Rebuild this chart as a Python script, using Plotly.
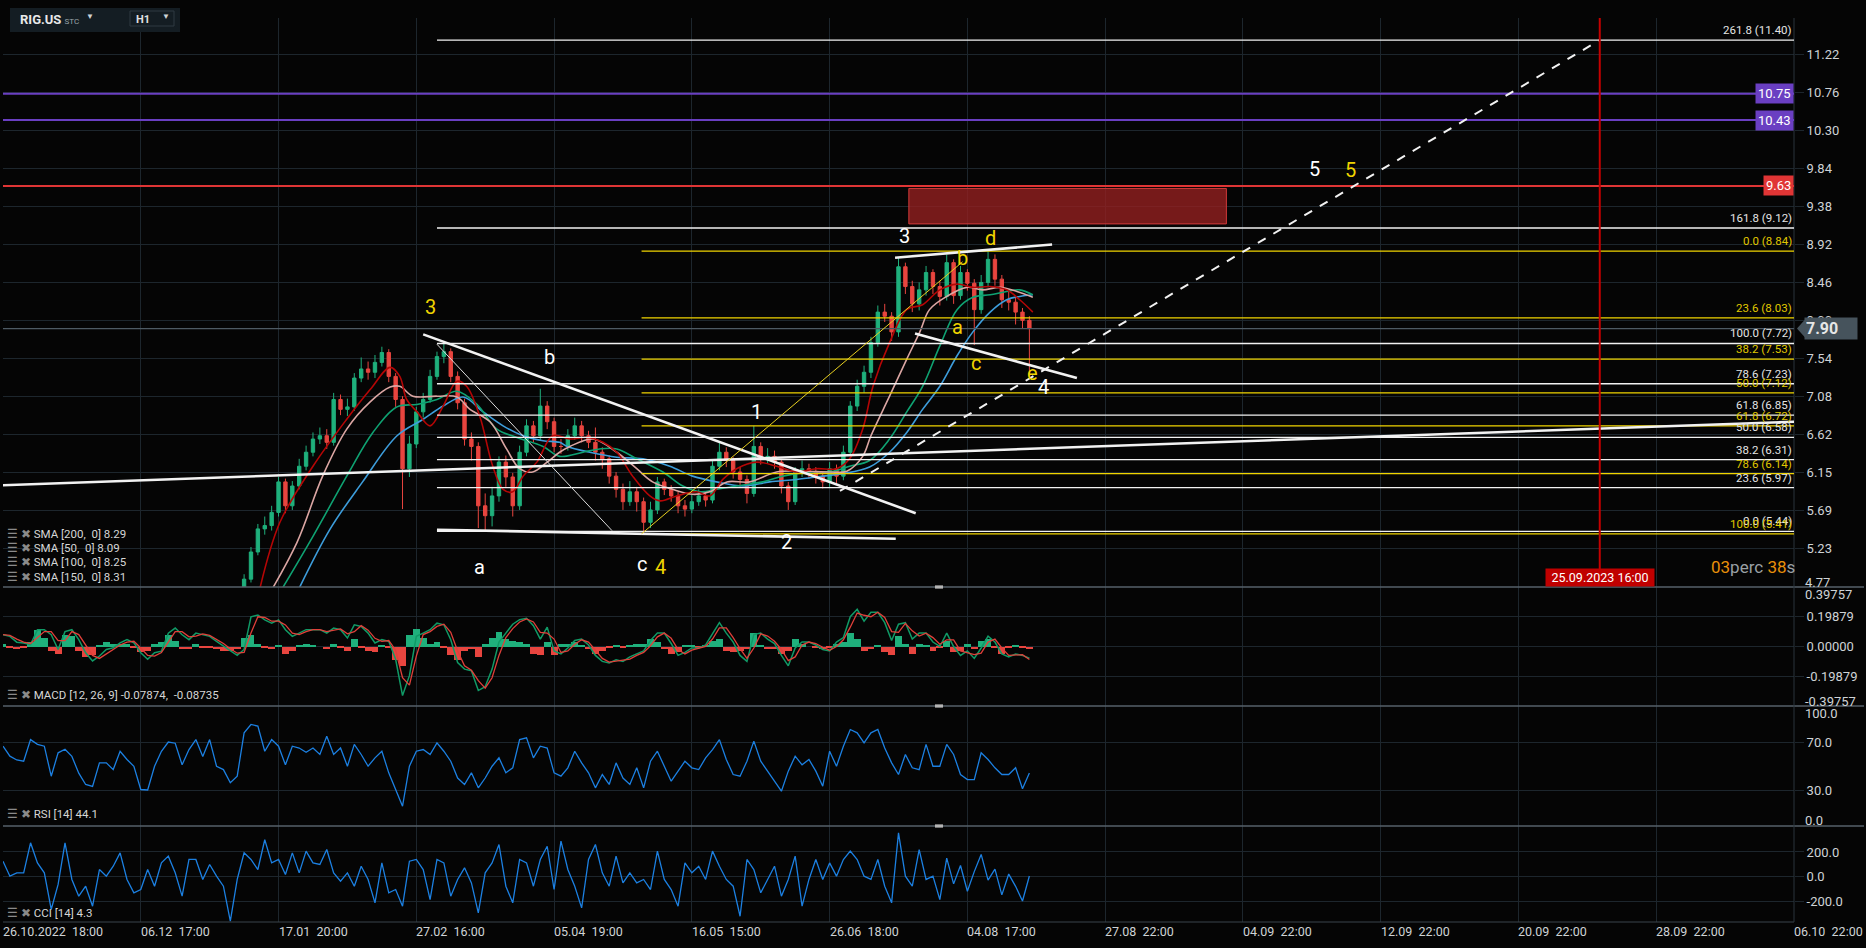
import plotly.graph_objects as go
from plotly.subplots import make_subplots

# ---------------- data (x = bar index, 20 bars per date tick) ----------------
tick_pos = [0, 20, 40, 60, 80, 100, 120, 140, 160, 180, 200, 220, 240, 260]
tick_text = ["26.10.2022  18:00", "06.12  17:00", "17.01  20:00", "27.02  16:00", "05.04  19:00",
             "16.05  15:00", "26.06  18:00", "04.08  17:00", "27.08  22:00", "04.09  22:00",
             "12.09  22:00", "20.09  22:00", "28.09  22:00", "06.10  22:00"]
price_ticks = [4.77, 5.23, 5.69, 6.15, 6.62, 7.08, 7.54, 8.00, 8.46, 8.92, 9.38, 9.84, 10.30, 10.76, 11.22]

first_bar = 35
first_open = 4.70
close = [4.86, 5.19, 5.47, 5.51, 5.67, 6.04, 5.75, 5.99, 6.23, 6.40, 6.56, 6.60, 6.52, 7.04, 6.92,
         6.95, 7.30, 7.41, 7.37, 7.49, 7.61, 7.32, 7.04, 6.20, 6.50, 6.89, 7.04, 7.32, 7.56, 7.62,
         7.32, 7.00, 6.56, 6.47, 5.75, 5.63, 5.87, 6.28, 6.10, 5.75, 6.40, 6.72, 6.60, 6.96, 6.77,
         6.47, 6.47, 6.60, 6.72, 6.60, 6.52, 6.40, 6.32, 6.11, 5.95, 5.80, 5.92, 5.80, 5.55, 5.70,
         6.04, 5.95, 5.87, 5.75, 5.71, 5.80, 5.87, 5.82, 6.23, 6.40, 6.30, 6.16, 6.07, 5.90, 6.47,
         6.32, 6.35, 6.28, 5.99, 5.80, 6.16, 6.20, 6.16, 6.11, 6.04, 6.20, 6.11, 6.40, 6.96, 7.20,
         7.37, 7.73, 8.10, 8.05, 7.86, 8.65, 8.41, 8.20, 8.37, 8.58, 8.41, 8.29, 8.70, 8.30, 8.58,
         8.45, 8.13, 8.46, 8.74, 8.50, 8.25, 8.22, 8.10, 8.00, 7.90]
high = [4.92, 5.25, 5.53, 5.62, 5.75, 6.10, 6.08, 6.05, 6.32, 6.48, 6.64, 6.70, 6.68, 7.12, 7.10,
        7.05, 7.36, 7.55, 7.50, 7.58, 7.68, 7.65, 7.36, 7.08, 6.60, 6.95, 7.12, 7.40, 7.62, 7.72,
        7.66, 7.38, 7.05, 6.64, 6.52, 5.90, 5.98, 6.35, 6.36, 6.15, 6.48, 6.80, 6.78, 7.17, 7.02,
        6.82, 6.56, 6.68, 6.82, 6.78, 6.66, 6.70, 6.46, 6.36, 6.16, 6.02, 6.05, 5.98, 5.85, 5.80,
        6.10, 6.08, 6.00, 5.92, 5.82, 5.88, 5.95, 5.92, 6.30, 6.52, 6.46, 6.34, 6.22, 6.12, 6.72,
        6.52, 6.45, 6.42, 6.32, 6.04, 6.22, 6.30, 6.26, 6.22, 6.16, 6.28, 6.25, 6.48, 7.02, 7.28,
        7.45, 7.80, 8.18, 8.20, 8.10, 8.76, 8.70, 8.48, 8.46, 8.66, 8.62, 8.48, 8.80, 8.74, 8.66,
        8.62, 8.50, 8.55, 8.84, 8.80, 8.55, 8.35, 8.28, 8.15, 8.05]
low = [4.66, 4.82, 5.15, 5.40, 5.45, 5.62, 5.66, 5.70, 5.95, 6.18, 6.35, 6.50, 6.44, 6.48, 6.85,
       6.84, 6.90, 7.25, 7.28, 7.30, 7.44, 7.25, 6.95, 5.71, 6.10, 6.45, 6.82, 7.00, 7.28, 7.48,
       7.25, 6.92, 6.48, 6.30, 5.48, 5.45, 5.50, 5.80, 5.98, 5.62, 5.70, 6.35, 6.52, 6.55, 6.68,
       6.40, 6.38, 6.42, 6.55, 6.52, 6.45, 6.30, 6.20, 6.02, 5.85, 5.70, 5.75, 5.68, 5.41, 5.48,
       5.65, 5.88, 5.80, 5.66, 5.62, 5.66, 5.75, 5.74, 5.78, 6.18, 6.22, 6.08, 5.98, 5.78, 5.86,
       6.25, 6.26, 6.20, 5.90, 5.70, 5.76, 6.10, 6.08, 6.02, 5.96, 5.98, 6.02, 6.06, 6.36, 6.90,
       7.12, 7.30, 7.68, 7.98, 7.75, 7.80, 8.32, 8.10, 8.12, 8.30, 8.32, 8.18, 8.24, 8.20, 8.25,
       8.36, 7.70, 8.08, 8.40, 8.42, 8.15, 8.12, 7.95, 7.90, 7.32]

sma50_x = [37.3, 40.2, 45.0, 49.9, 53.3, 56.2, 57.6, 58.6, 60.1, 62.0, 63.9, 65.9, 67.3, 69.2, 71.1,
           72.6, 74.0, 75.5, 77.5, 79.8, 82.3, 84.8, 87.1, 89.1, 91.4, 93.9, 95.4, 97.8, 100.7, 102.6,
           104.5, 106.5, 109.4, 112.3, 115.2, 118.1, 121.0, 122.9, 124.8, 126.3, 128.7, 131.2, 133.5,
           136.0, 138.5, 140.8, 143.3, 145.7, 147.6, 149.5]
sma50_y = [4.75, 5.55, 6.23, 6.80, 7.16, 7.43, 7.32, 7.04, 6.89, 6.72, 6.96, 7.26, 7.20, 6.84, 6.23,
           5.95, 5.92, 6.11, 6.28, 6.60, 6.56, 6.58, 6.52, 6.40, 6.11, 5.87, 5.81, 5.87, 5.92, 5.87,
           6.07, 6.20, 6.28, 6.23, 6.16, 6.20, 6.20, 6.32, 6.68, 7.20, 7.73, 8.13, 8.19, 8.37, 8.44,
           8.40, 8.41, 8.37, 8.25, 8.10]
sma100_x = [38.8, 42.7, 46.4, 49.9, 53.3, 56.2, 57.6, 59.5, 63.0, 65.9, 67.8, 70.7, 73.1, 75.0, 76.9,
            79.0, 80.8, 82.3, 85.6, 89.1, 92.0, 94.3, 97.2, 100.1, 102.6, 105.1, 108.4, 112.3, 116.1,
            120.0, 122.5, 124.8, 126.0, 128.7, 131.2, 133.1, 134.5, 137.0, 139.9, 142.2, 144.7, 147.2, 149.5]
sma100_y = [4.70, 5.31, 6.11, 6.68, 7.01, 7.19, 7.20, 7.08, 7.08, 7.07, 6.92, 6.77, 6.44, 6.20, 6.16,
            6.28, 6.40, 6.47, 6.56, 6.40, 6.20, 6.04, 5.95, 5.89, 5.92, 6.04, 6.04, 6.16, 6.17, 6.16,
            6.17, 6.35, 6.60, 7.08, 7.53, 7.86, 8.13, 8.29, 8.40, 8.37, 8.40, 8.35, 8.28]
sma150_x = [40.2, 45.0, 49.9, 53.7, 57.2, 60.1, 63.0, 65.9, 68.8, 71.7, 74.6, 78.4, 80.8, 84.2, 86.6,
            89.1, 92.0, 95.8, 98.7, 101.2, 103.6, 106.5, 110.3, 113.2, 117.1, 120.5, 122.9, 125.8,
            128.7, 131.2, 133.5, 136.0, 138.5, 140.8, 143.3, 145.7, 147.6, 149.5]
sma150_y = [4.70, 5.38, 6.11, 6.64, 6.95, 6.98, 7.04, 7.14, 6.98, 6.68, 6.58, 6.47, 6.35, 6.40, 6.44,
            6.44, 6.32, 6.16, 5.99, 5.92, 5.95, 5.99, 6.04, 6.11, 6.16, 6.17, 6.23, 6.30, 6.56, 6.89,
            7.20, 7.69, 8.13, 8.28, 8.31, 8.35, 8.37, 8.31]
sma200_x = [42.7, 47.5, 52.2, 57.2, 61.0, 63.9, 66.8, 69.7, 72.6, 75.5, 78.4, 80.8, 81.9, 85.2, 89.1,
            92.9, 96.8, 100.1, 103.6, 107.4, 111.3, 115.2, 119.0, 121.9, 125.8, 128.7, 131.2, 133.5,
            136.0, 138.5, 140.8, 143.3, 145.7, 147.6, 149.5]
sma200_y = [4.70, 5.47, 6.04, 6.60, 6.80, 6.96, 7.07, 6.89, 6.72, 6.60, 6.54, 6.52, 6.47, 6.40, 6.34,
            6.32, 6.23, 6.11, 6.04, 5.99, 6.04, 6.07, 6.11, 6.14, 6.22, 6.40, 6.64, 6.92, 7.20, 7.57,
            7.86, 8.10, 8.25, 8.29, 8.31]
sma_legend = ["SMA [200,  0] 8.29", "SMA [50,  0] 8.09", "SMA [100,  0] 8.25", "SMA [150,  0] 8.31"]

macd_line = [0.079, 0.068, 0.029, 0.024, 0.013, 0.113, 0.113, 0.079, -0.02, 0.10,
             0.113, 0.046, -0.042, -0.097, -0.064, -0.02, -0.009, 0.024, 0.046, 0.024,
             -0.042, -0.086, -0.042, -0.031, 0.09, 0.124, 0.079, 0.046, 0.09, 0.079,
             0.068, 0.035, 0.002, -0.031, -0.06, -0.02, 0.20, 0.212, 0.179, 0.157,
             0.179, 0.113, 0.068, 0.09, 0.113, 0.113, 0.113, 0.09, 0.124, 0.113,
             0.057, 0.146, 0.135, 0.09, 0.024, 0.046, 0.035, -0.086, -0.33, -0.196,
             0.068, 0.09, 0.113, 0.157, 0.146, 0.046, -0.108, -0.152, -0.163, -0.296,
             -0.27, -0.152, 0.03, 0.09, 0.15, 0.18, 0.19, 0.14, 0.05, 0.13,
             -0.03, -0.05, -0.01, 0.04, 0.05, 0.01, -0.06, -0.10, -0.11, -0.09,
             -0.10, -0.07, -0.05, -0.03, 0.04, 0.09, 0.09, 0.02, -0.06, -0.04,
             -0.01, -0.01, 0.01, 0.09, 0.16, 0.09, 0.03, -0.06, -0.10, 0.08,
             0.09, 0.05, 0.02, -0.06, -0.13, -0.01, 0.03, 0.03, 0.01, -0.02,
             -0.03, 0.03, 0.06, 0.20, 0.25, 0.17, 0.23, 0.23, 0.16, 0.04,
             0.15, 0.16, 0.05, 0.09, 0.09, 0.03, 0.00, 0.09, 0.00, -0.06,
             -0.03, -0.08, -0.01, 0.07, 0.03, -0.05, -0.07, -0.05, -0.06, -0.079]
macd_signal = [0.08, 0.075, 0.05, 0.03, 0.02, 0.06, 0.10, 0.10, 0.04, 0.04,
               0.10, 0.08, 0.01, -0.06, -0.08, -0.05, -0.02, 0.01, 0.03, 0.035,
               -0.01, -0.06, -0.065, -0.04, 0.03, 0.10, 0.10, 0.065, 0.07, 0.085,
               0.075, 0.05, 0.02, -0.015, -0.045, -0.04, 0.09, 0.20, 0.195, 0.17,
               0.17, 0.145, 0.09, 0.08, 0.10, 0.113, 0.113, 0.10, 0.107, 0.118,
               0.085, 0.10, 0.14, 0.11, 0.055, 0.035, 0.04, -0.025, -0.21, -0.26,
               -0.065, 0.08, 0.10, 0.135, 0.15, 0.095, -0.03, -0.13, -0.16, -0.23,
               -0.28, -0.21, -0.06, 0.06, 0.12, 0.165, 0.185, 0.165, 0.095, 0.09,
               0.05, -0.04, -0.03, 0.015, 0.045, 0.03, -0.025, -0.08, -0.105, -0.10,
               -0.095, -0.085, -0.06, -0.04, 0.005, 0.065, 0.09, 0.055, -0.02, -0.05,
               -0.025, -0.01, 0.0, 0.05, 0.125, 0.125, 0.06, -0.015, -0.08, -0.01,
               0.085, 0.07, 0.035, -0.02, -0.095, -0.07, 0.01, 0.03, 0.02, -0.005,
               -0.025, 0.0, 0.045, 0.13, 0.225, 0.21, 0.20, 0.23, 0.195, 0.10,
               0.095, 0.155, 0.105, 0.07, 0.09, 0.06, 0.015, 0.045, 0.045, -0.03,
               -0.045, -0.055, -0.045, 0.03, 0.05, -0.01, -0.06, -0.06, -0.055, -0.087]
macd_hist = [0.02, -0.01, -0.02, -0.01, 0.03, 0.11, 0.06, -0.03, -0.05, 0.08,
             0.07, -0.03, -0.07, -0.06, 0.01, 0.03, 0.02, 0.02, 0.02, -0.01,
             -0.04, -0.03, 0.02, 0.03, 0.08, 0.04, -0.02, -0.02, 0.02, -0.01,
             -0.01, -0.02, -0.03, -0.03, -0.02, 0.06, 0.08, 0.02, -0.01, -0.02,
             0.01, -0.05, -0.03, 0.01, 0.02, 0.01, 0.00, -0.02, 0.02, -0.01,
             -0.03, 0.05, -0.01, -0.03, -0.04, 0.01, -0.01, -0.09, -0.13, 0.08,
             0.12, 0.06, 0.02, 0.03, -0.01, -0.06, -0.09, -0.03, -0.02, -0.07,
             0.02, 0.06, 0.10, 0.05, 0.04, 0.03, 0.02, -0.05, -0.06, 0.03,
             -0.06, 0.02, 0.02, 0.03, 0.01, -0.02, -0.05, -0.03, -0.01, 0.01,
             -0.01, 0.01, 0.02, 0.02, 0.05, 0.03, -0.02, -0.05, -0.04, 0.01,
             0.01, -0.01, 0.01, 0.04, 0.05, -0.03, -0.04, -0.03, -0.02, 0.09,
             0.01, -0.02, -0.02, -0.05, -0.03, 0.05, 0.02, 0.00, -0.01, -0.02,
             -0.01, 0.02, 0.03, 0.09, 0.05, -0.03, -0.02, 0.01, -0.04, -0.06,
             0.07, 0.02, -0.05, 0.02, 0.01, -0.03, -0.01, 0.04, -0.04, -0.03,
             0.02, -0.02, 0.04, 0.05, -0.01, -0.05, -0.01, 0.01, -0.01, -0.02]
macd_ticks = [0.19879, 0.0, -0.19879]
macd_edge = [0.39757, -0.39757]

rsi = [66.5, 58.2, 55, 54, 72, 68, 66.5, 41.5, 61, 64,
       58, 44, 34.6, 33, 52.6, 52.6, 47, 62.3, 55.4, 49.8,
       30.4, 30, 49.8, 62.3, 70, 69, 51, 63.7, 72, 58,
       72, 49.8, 47, 36, 41.5, 77.6, 84.6, 83.2, 62.3, 72,
       66.5, 51, 66.5, 65, 61.5, 65, 59.6, 74.8, 59.6, 65,
       49.8, 68, 59.6, 49.8, 56.8, 62.3, 44.3, 30.4, 16.5, 49.8,
       62.3, 63.7, 59.6, 69.3, 62.3, 54, 40, 34.6, 44.3, 31.8,
       40, 49.8, 56.8, 44.3, 48.5, 72, 73.5, 56.8, 66.5, 65,
       44.3, 41.5, 48.5, 62.3, 52.6, 44.3, 31.8, 42.9, 34.6, 52.6,
       40, 34.6, 48.5, 31.8, 54, 62.3, 49.8, 37.3, 45.7, 54,
       48.5, 47, 56.8, 63.7, 72, 55.4, 42.9, 41.5, 54, 70.7,
       54, 45.7, 37.3, 29, 45.7, 58.2, 51, 55.4, 45.7, 33.2,
       62.3, 49.8, 66.5, 80.4, 77.6, 69.3, 77.6, 80.4, 65, 52.6,
       42.9, 59.6, 48.5, 47, 68, 49.8, 49.8, 68, 59.6, 42.9,
       38.7, 38.7, 61, 55.4, 48.5, 42.9, 42.9, 48.5, 31, 44.1]
rsi_ticks = [70, 30]
rsi_edge = [100, 0]

cci = [125, 3, 30, 30, 275, 111, 30, -269, -65, 275,
       -24, -160, -79, -242, 57, 3, 84, 193, -24, -133,
       -106, 57, -79, 111, 166, 30, -160, 139, 139, -24,
       98, 3, -79, -364, -24, 193, 139, 57, 300, 111,
       139, 16, 193, 30, 207, 111, 98, 220, 30, -38,
       30, -79, 84, -24, -215, 111, -133, -106, -242, 125,
       139, 57, -188, 139, 111, -160, -24, 71, -52, -297,
       30, 111, 261, -79, -215, 139, 111, -79, 139, 247,
       -106, 288, 57, -79, -256, 139, 261, 30, -79, 166,
       -52, 30, -52, -24, -106, 207, -24, -106, -242, 111,
       30, 84, -24, 207, 84, -24, -79, -324, 139, 57,
       -133, -24, 84, -160, -24, 166, -242, -24, 139, -24,
       111, 3, 139, 207, 139, 3, -24, 139, -79, -215,
       356, 3, -79, 220, -24, 3, -188, 150, -60, 90,
       -120, 40, 180, -30, 60, -150, 20, -80, -200, 4.3]
cci_ticks = [200, 0, -200]

# fibonacci retracements
fib_white_start = 63.0
fib_white_level = [261.8, 161.8, 100.0, 78.6, 61.8, 50.0, 38.2, 23.6, 0.0]
fib_white_price = [11.40, 9.12, 7.72, 7.23, 6.85, 6.58, 6.31, 5.97, 5.44]
fib_yellow_start = 92.7
fib_yellow_level = [0.0, 23.6, 38.2, 50.0, 61.8, 78.6, 100.0]
fib_yellow_price = [8.84, 8.03, 7.53, 7.12, 6.72, 6.14, 5.41]

# horizontal key levels
purple_levels = [10.75, 10.43]
red_levels = [9.63]
last_price = 7.90

# drawn trend lines (bar, price)
trend_x0 = [0.0, 61.0, 63.0, 129.5, 132.4]
trend_y0 = [6.00, 7.83, 5.46, 8.76, 7.84]
trend_x1 = [260.0, 132.5, 129.6, 152.3, 155.9]
trend_y1 = [6.77, 5.66, 5.35, 8.92, 7.30]
thin_x0, thin_y0, thin_x1, thin_y1 = 63.0, 7.71, 88.4, 5.45
yellow_x0, yellow_y0, yellow_x1, yellow_y1 = 92.7, 5.41, 139.3, 8.71
dash_x0, dash_y0, dash_x1, dash_y1 = 121.5, 5.93, 231.8, 11.40
zone_x0, zone_x1, zone_y0, zone_y1 = 131.5, 177.6, 9.17, 9.60
marker_bar = 231.8
marker_text = "25.09.2023 16:00"

# elliott wave labels
wave_text = ["3", "b", "a", "c", "4", "1", "2", "3", "b", "d", "a", "c", "e", "4", "5", "5"]
wave_x = [62.0, 79.4, 69.2, 92.7, 95.4, 109.4, 113.8, 130.8, 139.3, 143.3, 138.5, 141.2, 149.5, 151.0, 190.4, 195.6]
wave_y = [8.16, 7.56, 5.01, 5.05, 5.01, 6.89, 5.31, 9.02, 8.76, 9.00, 7.92, 7.48, 7.36, 7.19, 9.84, 9.83]
wave_yellow = [True, False, False, False, True, False, False, False, True, True, True, True, True, False, False, True]

# ---------------- styling ----------------
BG = "#050505"
GRID = "#1d262d"
AXIS_TXT = "#cfd3d6"
FONT = "Roboto, sans-serif"
UP = "#1fb07c"
DOWN = "#e8453f"
WHITE = "#f2f2f2"
YELLOW = "#f0d400"
PURPLE = "#6a3fc2"
RED = "#e03535"
BLUE = "#1c80e2"

W, H = 1866, 948
PL, PR, PT, PB = 3, 1794, 18, 922


def px_x(x):
    return (x - PL) / (PR - PL)


def px_y(y):
    return (PB - y) / (PB - PT)


fig = make_subplots(rows=4, cols=1, shared_xaxes=True, vertical_spacing=0,
                    row_heights=[569, 119, 120, 96])

bars = list(range(first_bar, first_bar + len(close)))
opens = [first_open] + close[:-1]
fig.add_trace(go.Candlestick(x=bars, open=opens, high=high, low=low, close=close,
                             increasing=dict(line=dict(color=UP, width=1), fillcolor=UP),
                             decreasing=dict(line=dict(color=DOWN, width=1), fillcolor=DOWN),
                             whiskerwidth=0, hoverinfo="skip", showlegend=False), row=1, col=1)

for xs, ys, col in [(sma200_x, sma200_y, "#3d9ddb"), (sma150_x, sma150_y, "#0fa272"),
                    (sma100_x, sma100_y, "#dba6a3"), (sma50_x, sma50_y, "#b40606")]:
    fig.add_trace(go.Scatter(x=xs, y=ys, mode="lines", line=dict(color=col, width=1.6, shape="spline"),
                             hoverinfo="skip", showlegend=False), row=1, col=1)

ind_x = list(range(len(macd_line)))
fig.add_trace(go.Bar(x=ind_x, y=macd_hist, marker=dict(color=[UP if v >= 0 else DOWN for v in macd_hist], line_width=0),
                     width=1.0, hoverinfo="skip", showlegend=False), row=2, col=1)
fig.add_trace(go.Scatter(x=ind_x, y=macd_line, mode="lines", line=dict(color="#109a66", width=1.5),
                         hoverinfo="skip", showlegend=False), row=2, col=1)
fig.add_trace(go.Scatter(x=ind_x, y=macd_signal, mode="lines", line=dict(color="#e0403a", width=1.3),
                         hoverinfo="skip", showlegend=False), row=2, col=1)
fig.add_trace(go.Scatter(x=ind_x, y=rsi, mode="lines", line=dict(color=BLUE, width=1.3),
                         hoverinfo="skip", showlegend=False), row=3, col=1)
fig.add_trace(go.Scatter(x=ind_x, y=cci, mode="lines", line=dict(color=BLUE, width=1.3),
                         hoverinfo="skip", showlegend=False), row=4, col=1)

fig.update_xaxes(range=[0, 260], tickvals=tick_pos, showticklabels=False, showgrid=True,
                 gridcolor=GRID, zeroline=False, showline=False, ticks="", rangeslider_visible=False)
tick_font = dict(family=FONT, size=13, color=AXIS_TXT)
yax = dict(side="right", showgrid=True, gridcolor=GRID, zeroline=False, showline=False,
           ticks="outside", ticklen=9, tickcolor=GRID, tickfont=tick_font)
fig.update_yaxes(**yax)
fig.update_yaxes(range=[4.765, 11.668], tickvals=price_ticks[1:], ticktext=[f"{v:.2f}" for v in price_ticks[1:]], row=1, col=1)
fig.update_yaxes(range=[-0.40, 0.40], tickvals=macd_ticks, ticktext=[f"{v:.5f}" for v in macd_ticks], row=2, col=1)
fig.update_yaxes(range=[0, 100], tickvals=rsi_ticks, ticktext=[f"{v:.1f}" for v in rsi_ticks], row=3, col=1)
fig.update_yaxes(range=[-371, 412], tickvals=cci_ticks, ticktext=[f"{v:.1f}" for v in cci_ticks], row=4, col=1)

shapes = []
ann = []

# axis labels that sit on pane edges, nudged inside like the reference
edge_labels = [(f"{price_ticks[0]:.2f}", 582), (f"{macd_edge[0]:.5f}", 594), (f"{macd_edge[1]:.5f}", 701),
               (f"{rsi_edge[0]:.1f}", 713), (f"{rsi_edge[1]:.1f}", 820)]
for t, ypx in edge_labels:
    ann.append(dict(x=1, y=px_y(ypx), xref="paper", yref="paper", xanchor="left", yanchor="middle", xshift=9,
                    text=t, showarrow=False, font=tick_font))

# pane separators and frame
for yref in ["y2", "y3", "y4"]:
    top = fig.layout[yref.replace("y", "yaxis")].domain[1]
    shapes.append(dict(type="line", xref="paper", yref="paper", x0=0, x1=px_x(1864), y0=top, y1=top,
                       line=dict(color="#56616a", width=1.5)))
    shapes.append(dict(type="rect", xref="paper", yref="paper", x0=px_x(935), x1=px_x(943),
                       y0=top - 0.0018, y1=top + 0.0018, fillcolor="#b5b5b5", line_width=0))
shapes.append(dict(type="line", xref="paper", yref="paper", x0=0, x1=1, y0=0, y1=0, line=dict(color="#3a444c", width=1)))
shapes.append(dict(type="line", xref="paper", yref="paper", x0=1, x1=1, y0=0, y1=1, line=dict(color="#2a343c", width=1)))

# key levels
shapes.append(dict(type="line", xref="x", yref="y", x0=0, x1=260, y0=last_price, y1=last_price,
                   line=dict(color="#4e5a63", width=1.2)))
for lv in purple_levels:
    shapes.append(dict(type="line", xref="x", yref="y", x0=0, x1=260, y0=lv, y1=lv, line=dict(color=PURPLE, width=2)))
    ann.append(dict(x=260, y=lv, xref="x", yref="y", xanchor="right", yanchor="middle", text=f"{lv:.2f}",
                    showarrow=False, bgcolor=PURPLE, borderpad=2, font=dict(family=FONT, size=13, color="#ffffff")))
for lv in red_levels:
    shapes.append(dict(type="line", xref="x", yref="y", x0=0, x1=260, y0=lv, y1=lv, line=dict(color=RED, width=2)))
    ann.append(dict(x=260, y=lv, xref="x", yref="y", xanchor="right", yanchor="middle", text=f"{lv:.2f}",
                    showarrow=False, bgcolor=RED, borderpad=2, font=dict(family=FONT, size=13, color="#ffffff")))

# target zone
shapes.append(dict(type="rect", xref="x", yref="y", x0=zone_x0, x1=zone_x1, y0=zone_y0, y1=zone_y1,
                   fillcolor="rgba(150,32,32,0.78)", line=dict(color="#d03a3a", width=1)))

# fib levels
for lv, pr in zip(fib_white_level, fib_white_price):
    shapes.append(dict(type="line", xref="x", yref="y", x0=fib_white_start, x1=260, y0=pr, y1=pr,
                       line=dict(color=WHITE, width=1.4)))
    ann.append(dict(x=260, y=pr, xref="x", yref="y", xanchor="right", yanchor="bottom", yshift=1,
                    text=f"{lv:.1f} ({pr:.2f})", showarrow=False, font=dict(family=FONT, size=11.5, color="#e4e4e4")))
for lv, pr in zip(fib_yellow_level, fib_yellow_price):
    shapes.append(dict(type="line", xref="x", yref="y", x0=fib_yellow_start, x1=260, y0=pr, y1=pr,
                       line=dict(color=YELLOW, width=1.3)))
    ann.append(dict(x=260, y=pr, xref="x", yref="y", xanchor="right", yanchor="bottom", yshift=1,
                    text=f"{lv:.1f} ({pr:.2f})", showarrow=False, font=dict(family=FONT, size=11.5, color="#e0c800")))

# trend lines
for x0, y0, x1, y1 in zip(trend_x0, trend_y0, trend_x1, trend_y1):
    shapes.append(dict(type="line", xref="x", yref="y", x0=x0, y0=y0, x1=x1, y1=y1, line=dict(color=WHITE, width=2.6)))
shapes.append(dict(type="line", xref="x", yref="y", x0=thin_x0, y0=thin_y0, x1=thin_x1, y1=thin_y1,
                   line=dict(color="#dddddd", width=1)))
shapes.append(dict(type="line", xref="x", yref="y", x0=yellow_x0, y0=yellow_y0, x1=yellow_x1, y1=yellow_y1,
                   line=dict(color="#e8d020", width=1)))
shapes.append(dict(type="line", xref="x", yref="y", x0=dash_x0, y0=dash_y0, x1=dash_x1, y1=dash_y1,
                   line=dict(color=WHITE, width=2, dash="dash")))

# time marker
shapes.append(dict(type="line", xref="x", yref="y", x0=marker_bar, x1=marker_bar, y0=4.9, y1=11.668,
                   line=dict(color="#c40000", width=2)))
ann.append(dict(x=marker_bar, y=4.765, xref="x", yref="y", xanchor="center", yanchor="bottom", text=marker_text,
                showarrow=False, bgcolor="#c00000", borderpad=1, width=106, font=dict(family=FONT, size=12.5, color="#ffffff")))

# last price tag on the axis
shapes.append(dict(type="path", xref="paper", yref="y", xsizemode="pixel", ysizemode="pixel", xanchor=1, yanchor=last_price,
                   path="M 3 0 L 11 -9 L 11 9 Z", fillcolor="#46535c", line_width=0))
ann.append(dict(x=1, y=last_price, xref="paper", yref="y", xanchor="left", yanchor="middle", xshift=10,
                text="<b>7.90</b>", showarrow=False, bgcolor="#46535c", borderpad=1, width=50, align="left",
                font=dict(family=FONT, size=16, color="#e6e6e6")))

# wave labels
for t, x, y, yel in zip(wave_text, wave_x, wave_y, wave_yellow):
    ann.append(dict(x=x, y=y, xref="x", yref="y", text=t, showarrow=False, xanchor="center", yanchor="middle",
                    font=dict(family=FONT, size=20, color=YELLOW if yel else "#ffffff")))

# countdown
ann.append(dict(x=px_x(1797), y=px_y(567), xref="paper", yref="paper", xanchor="right", yanchor="middle", showarrow=False,
                text="<span style='color:#e8900a'>03</span>perc <span style='color:#e8900a'>38</span>s",
                font=dict(family=FONT, size=17, color="#9aa0a4")))

# indicator legends
icon = "<span style='color:#8a8a8a'>☰ ✖</span> "
for i, t in enumerate(sma_legend):
    ann.append(dict(x=px_x(5), y=px_y(534 + i * 14.2), xref="paper", yref="paper", xanchor="left", yanchor="middle",
                    showarrow=False, text=icon + t, font=dict(family=FONT, size=11.5, color="#d6d6d6")))
for ypx, t in [(695, "MACD [12, 26, 9] -0.07874,  -0.08735"), (814, "RSI [14] 44.1"), (913, "CCI [14] 4.3")]:
    ann.append(dict(x=px_x(5), y=px_y(ypx), xref="paper", yref="paper", xanchor="left", yanchor="middle",
                    showarrow=False, text=icon + t, font=dict(family=FONT, size=11.5, color="#d6d6d6")))

# x tick labels (left aligned on the grid lines)
for p, t in zip(tick_pos, tick_text):
    ann.append(dict(x=p, y=px_y(931), xref="x", yref="paper", xanchor="left", yanchor="middle", showarrow=False,
                    xshift=-2, text=t.replace("  ", "&nbsp;&nbsp;"), font=dict(family=FONT, size=12.5, color=AXIS_TXT)))

# header box
shapes.append(dict(type="rect", xref="paper", yref="paper", x0=px_x(10), x1=px_x(180), y0=px_y(32), y1=px_y(8),
                   fillcolor="#141d23", line_width=0))
shapes.append(dict(type="rect", xref="paper", yref="paper", x0=px_x(130), x1=px_x(174), y0=px_y(26), y1=px_y(11),
                   fillcolor="#141d23", line=dict(color="#2e3a42", width=1)))
ann.append(dict(x=px_x(18), y=px_y(19), xref="paper", yref="paper", xanchor="left", yanchor="middle", showarrow=False,
                text="<b>RIG.US</b> <span style='font-size:8px;color:#9aa4aa'>STC</span>",
                font=dict(family=FONT, size=13, color="#e8e8e8")))
ann.append(dict(x=px_x(90), y=px_y(17), xref="paper", yref="paper", xanchor="center", yanchor="middle", showarrow=False,
                text="▼", font=dict(family=FONT, size=8, color="#cfd3d6")))
ann.append(dict(x=px_x(134), y=px_y(19), xref="paper", yref="paper", xanchor="left", yanchor="middle", showarrow=False,
                text="<b>H1</b>", font=dict(family=FONT, size=11, color="#e0e0e0")))
ann.append(dict(x=px_x(166), y=px_y(17), xref="paper", yref="paper", xanchor="center", yanchor="middle", showarrow=False,
                text="▼", font=dict(family=FONT, size=8, color="#cfd3d6")))

fig.update_layout(width=W, height=H, margin=dict(l=PL, r=W - PR, t=PT, b=H - PB, pad=0),
                  paper_bgcolor=BG, plot_bgcolor=BG, showlegend=False, bargap=0,
                  font=dict(family=FONT, color=AXIS_TXT), shapes=shapes, annotations=ann,
                  hovermode=False)

# drop the default page margin so the figure sits at the window's top-left corner
fig.write_html("out.html", config={"displayModeBar": False},
               post_script="document.body.style.margin='0';document.body.style.background='#050505';")
